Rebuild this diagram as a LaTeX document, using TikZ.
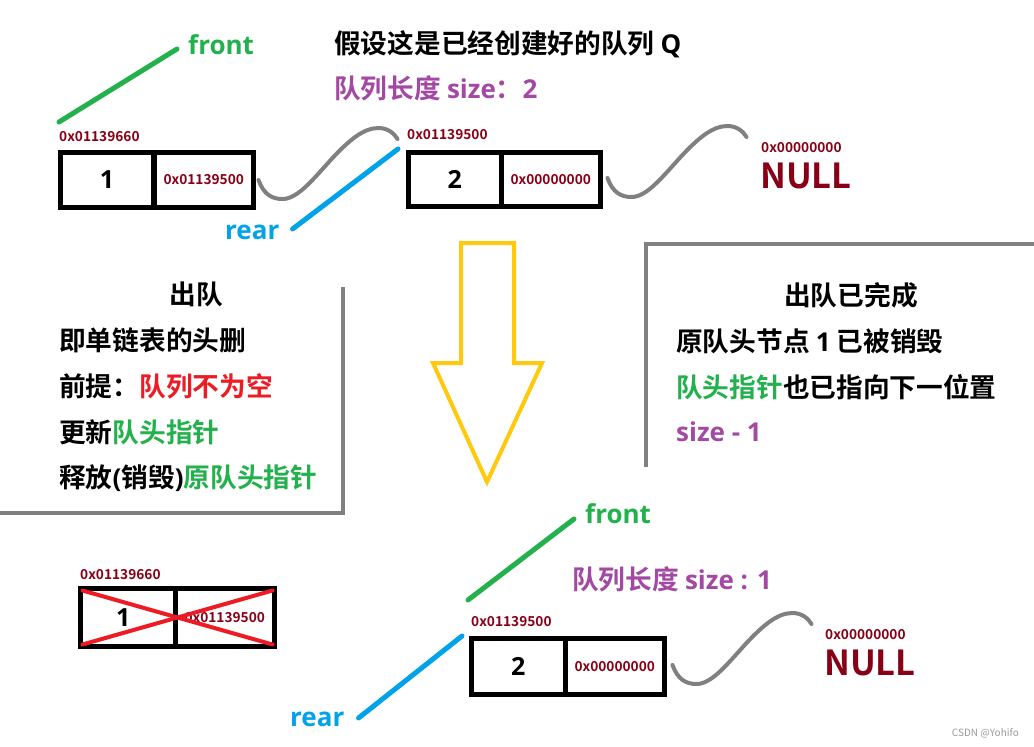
\documentclass[tikz,border=0pt]{standalone}
\usepackage{fontspec}
\setmainfont{Noto Sans CJK SC}[BoldFont={Noto Sans CJK SC Bold}]
\newfontfamily\latf{Open Sans}
\usetikzlibrary{calc}
\definecolor{grn}{HTML}{22B14C}
\definecolor{blu}{HTML}{00A2E8}
\definecolor{pur}{HTML}{A349A4}
\definecolor{dred}{HTML}{880015}
\definecolor{rd}{HTML}{ED1C24}
\definecolor{gry}{HTML}{808080}
\definecolor{ylw}{HTML}{FFC90E}
\newcommand{\lat}[1]{{\latf\bfseries\fontsize{26}{26}\selectfont #1}}
\newcommand{\wavepath}{(0,0) .. controls (5,14) and (13,19) .. (24,19) .. controls (39,19) and (54,0) .. (74,-22) .. controls (91,-40) and (105,-52) .. (120,-52) .. controls (130,-52) and (136,-46) .. (139,-41)}
\begin{document}
\begin{tikzpicture}[x=1pt,y=-1pt,
  cell/.style={draw=black,line width=5pt,inner sep=0pt,outer sep=0pt,font=\latf\bfseries\fontsize{25}{25}\selectfont},
  addrcell/.style={cell,text=dred,font=\bfseries\fontsize{13.7}{14}\selectfont},
  addr/.style={text=dred,font=\bfseries\fontsize{13.7}{14}\selectfont,inner sep=0pt,anchor=west},
  nulltxt/.style={text=dred,font=\bfseries\fontsize{34.5}{35}\selectfont,inner sep=0pt,anchor=west},
  big/.style={font=\bfseries\fontsize{26.7}{27}\selectfont,inner sep=0pt},
  ptr/.style={line width=5pt,line cap=round},
  wave/.style={draw=gry,line width=4pt,line cap=round},
  panel/.style={draw=gry,line width=4.5pt},
  cross/.style={draw=rd,line width=4pt,line cap=round}
]
\useasboundingbox[fill=white] (0,0) rectangle (1034,747);

% ---------- top queue ----------
\node[big,text=grn,anchor=west] (front1) at (188,45) {\lat{front}};
\node[big,anchor=west] (title) at (334,44) {假设这是已经创建好的队列 \lat{Q}};
\node[big,text=pur,anchor=west] (size1) at (334,88) {队列长度 \lat{size}：\lat{2}};

\node[addr] (a1) at (59,137) {0x01139660};
\node[cell,minimum width=93.5pt,minimum height=55pt] (n1a) at (107,180) {1};
\node[addrcell,minimum width=99.5pt,minimum height=55pt] (n1b) at (203.75,180) {0x01139500};

\node[addr] (a2) at (407,135) {0x01139500};
\node[cell,minimum width=92.5pt,minimum height=54pt] (n2a) at (454.75,179.5) {2};
\node[addrcell,minimum width=99.5pt,minimum height=54pt] (n2b) at (550.75,179.5) {0x00000000};

\node[addr] (a3) at (761,148) {0x00000000};
\node[nulltxt] (null1) at (760,176) {NULL};

\node[big,text=blu,anchor=west] (rear1) at (225,232) {\lat{rear}};

\coordinate (f1end) at (59,122);
\coordinate (r1end) at (398,149);
\draw[ptr,grn] (front1.west) ++(-11,4) -- (f1end);
\draw[ptr,blu] (rear1.east) ++(13,-3) -- (r1end);

\begin{scope}[shift={($(n1b.east)+(5,0)$)}]
  \draw[wave] \wavepath;
\end{scope}
\begin{scope}[shift={($(n2b.east)+(7,-1.5)$)}]
  \draw[wave] \wavepath;
\end{scope}

% ---------- arrow ----------
\draw[ylw,line width=4pt,line join=miter]
  (461,243) -- (514,243) -- (514,363) -- (542,363) -- (487,482) -- (433,363) -- (461,363) -- cycle;

% ---------- left panel ----------
\draw[panel] (343,287) -- (343,513) -- (0,513);
\node[big] (l0) at (196,294) {出队};
\node[big,anchor=west] (l1) at (59,340) {即单链表的头删};
\node[big,anchor=west] (l2) at (59,386) {前提：\textcolor{rd}{队列不为空}};
\node[big,anchor=west] (l3) at (59,432) {更新\textcolor{grn}{队头指针}};
\node[big,anchor=west] (l4) at (59,478) {释放\lat{(}销毁\lat{)}\textcolor{grn}{原队头指针}};

% ---------- right panel ----------
\draw[panel] (646,467) -- (646,244) -- (1034,244);
\node[big] (r0) at (851,295) {出队已完成};
\node[big,anchor=west] (r1) at (676,341) {原队头节点 \lat{1} 已被销毁};
\node[big,anchor=west] (r2) at (676,387) {\textcolor{grn}{队头指针}也已指向下一位置};
\node[big,anchor=west,text=pur] (r3) at (676,432) {\lat{size - 1}};

% ---------- destroyed node ----------
\node[addr] (a4) at (80,575) {0x01139660};
\node[cell,minimum width=94.5pt,minimum height=58pt] (d1a) at (127.75,617.5) {\hspace*{-9pt}1};
\node[addrcell,minimum width=99.5pt,minimum height=58pt] (d1b) at (224.75,617.5) {0x01139500};
\draw[cross] ($(d1a.north west)+(2,2)$) coordinate (x1) -- ($(d1b.south east)+(-2,-2)$) coordinate (x2);
\draw[cross] ($(d1a.south west)+(2,-2)$) coordinate (x3) -- ($(d1b.north east)+(-2,2)$) coordinate (x4);

% ---------- bottom queue ----------
\node[big,text=grn,anchor=west] (front2) at (585,514) {\lat{front}};
\node[big,text=pur,anchor=west] (size2) at (572,579) {队列长度 \lat{size : 1}};
\node[addr] (a5) at (471,622) {0x01139500};
\node[cell,minimum width=93.5pt,minimum height=56pt] (m2a) at (518.25,666.5) {2};
\node[addrcell,minimum width=99.5pt,minimum height=56pt] (m2b) at (614.75,666.5) {0x00000000};
\node[addr] (a6) at (825,635) {0x00000000};
\node[nulltxt] (null2) at (824,663) {NULL};
\node[big,text=blu,anchor=west] (rear2) at (290,719) {\lat{rear}};

\coordinate (f2end) at (468,600);
\coordinate (r2end) at (462,636);
\draw[ptr,grn] (front2.west) ++(-11,5) -- (f2end);
\draw[ptr,blu] (rear2.east) ++(14,-1) -- (r2end);

\begin{scope}[shift={($(m2b.east)+(8,-1.5)$)}]
  \draw[wave] \wavepath;
\end{scope}

\node[text=gry!80,font=\fontsize{10}{10}\selectfont,anchor=east,inner sep=0pt] (wm) at (1019,733) {CSDN @Yohifo};
\end{tikzpicture}
\end{document}
